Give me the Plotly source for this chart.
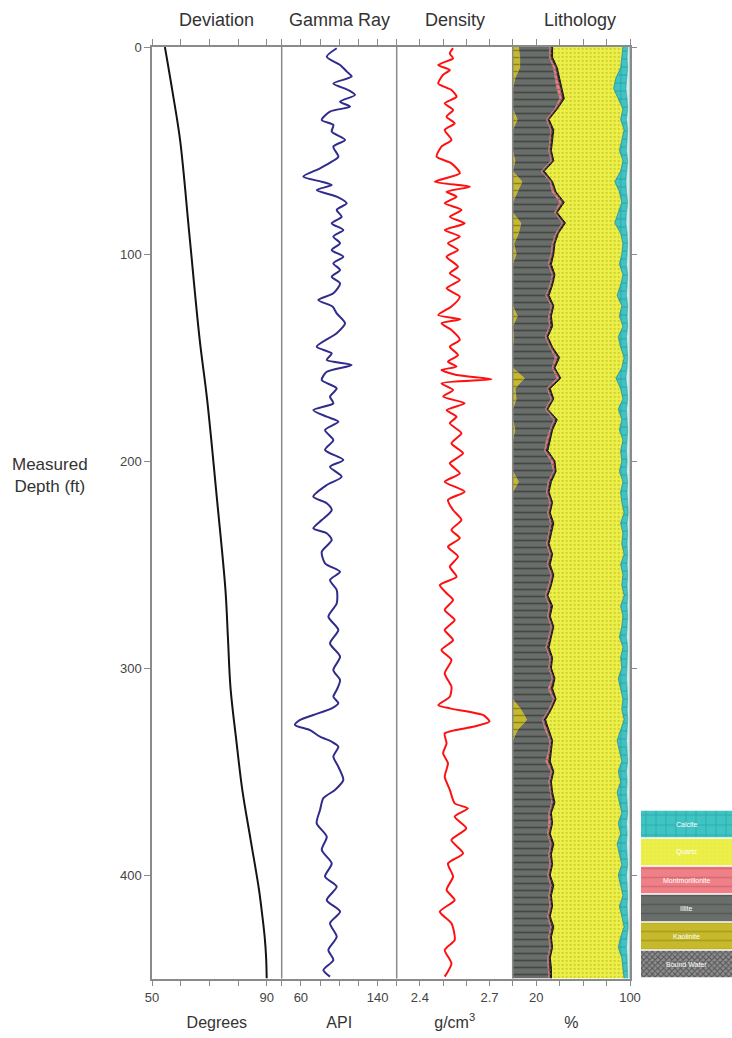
import numpy as np
import plotly.graph_objects as go

W, H = 732, 1038

# ---------------- data ----------------
dev_depth = [0, 22, 45, 90, 141, 170, 219, 262, 286, 310, 335, 359, 383, 407, 420, 430, 440, 450]
dev_deg = [54.5, 57.2, 59.8, 63.0, 66.6, 69.2, 72.7, 75.6, 76.5, 77.4, 79.4, 81.5, 84.4, 87.3, 88.5, 89.3, 89.8, 90.0]

gr_depth = [0.6, 4.7, 8.7, 11.9, 14.3, 17.6, 20.8, 23.2, 26.4, 28.8, 31.2, 35.3, 37.7, 40.9, 44.9,
            48.1, 53.0, 55.4, 58.6, 62.6, 65.1, 66.7, 69.1, 72.3, 75.5, 78.7, 82.0, 85.2, 88.4, 91.6,
            94.8, 98.1, 101.3, 104.5, 107.7, 111.0, 114.2, 119.0, 122.2, 125.4, 128.7, 133.5, 138.3,
            144.8, 148.0, 151.2, 153.6, 156.9, 160.9, 164.9, 168.9, 172.1, 175.4, 178.6, 181.0, 185.0,
            189.9, 194.7, 199.5, 202.8, 207.6, 211.6, 217.2, 220.4, 223.7, 228.5, 232.5, 234.9, 238.2,
            243.8, 249.4, 253.5, 257.5, 262.3, 268.8, 275.2, 281.6, 288.1, 294.5, 301.0, 305.8, 310.6,
            313.9, 317.0, 319.5, 322.7, 325.1, 327.5, 330.0, 333.2, 335.6, 338.0, 342.8, 347.7, 354.1,
            358.9, 362.9, 368.6, 375.0, 381.5, 387.9, 394.4, 400.8, 405.6, 412.1, 417.7, 423.3, 429.8,
            436.2, 441.1, 445.9, 449.1]
gr_api = [97.4, 87.0, 100.9, 108.0, 113.0, 93.9, 109.5, 116.5, 100.9, 111.3, 90.4, 81.8, 93.9, 92.2, 106.1,
          93.9, 99.1, 92.2, 80.0, 62.6, 81.8, 92.2, 76.5, 97.4, 107.8, 97.4, 102.6, 92.2, 104.3, 93.9,
          100.9, 92.2, 104.3, 93.9, 100.9, 92.2, 100.9, 93.9, 78.2, 93.0, 97.4, 106.1, 97.4,
          76.5, 92.2, 87.0, 113.0, 87.0, 81.8, 97.4, 90.4, 93.9, 73.0, 87.0, 99.1, 85.2,
          93.9, 85.2, 104.3, 90.4, 102.6, 87.0, 73.0, 87.0, 92.2, 81.8, 73.0, 87.0, 92.2,
          81.8, 85.2, 100.9, 90.4, 97.4, 97.4, 88.7, 99.1, 90.4, 100.9, 93.9, 100.9, 97.4,
          93.9, 99.1, 92.2, 73.0, 59.2, 53.9, 69.6, 80.0, 92.2, 99.1, 93.9, 99.1, 104.3,
          95.6, 83.5, 80.0, 76.5, 87.0, 81.8, 92.2, 85.2, 97.4, 87.0, 100.9, 90.4, 97.4,
          88.7, 93.9, 83.5, 90.4]

den_depth = [0.6, 3.1, 5.5, 8.7, 11.1, 13.5, 17.6, 20.8, 24.0, 27.2, 30.4, 33.7, 36.9, 40.1, 44.9,
             48.1, 53.0, 56.2, 61.0, 65.1, 67.5, 69.9, 72.3, 75.5, 78.7, 82.0, 85.2, 88.4, 91.6, 94.8,
             98.1, 101.3, 106.1, 109.3, 112.6, 116.6, 120.6, 125.4, 129.5, 131.5, 133.5, 136.7, 141.5,
             144.8, 148.8, 152.0, 154.4, 156.0, 158.5, 160.5, 162.5, 165.7, 168.9, 172.1, 175.4, 178.6,
             181.8, 186.6, 191.5, 196.3, 201.1, 206.0, 210.0, 214.8, 218.8, 223.7, 228.5, 233.3, 237.3,
             241.4, 246.2, 251.1, 255.9, 259.9, 263.9, 267.1, 272.0, 276.8, 281.6, 286.5, 291.3, 296.1,
             302.6, 309.0, 313.9, 317.9, 319.5, 322.7, 325.9, 328.4, 331.6, 336.4, 341.2, 346.0, 352.5,
             358.9, 365.4, 367.8, 371.8, 377.5, 383.1, 389.5, 394.4, 400.8, 407.2, 412.1, 417.7, 423.3,
             431.4, 436.2, 442.7, 449.1]
den_rho = [2.543, 2.529, 2.543, 2.479, 2.529, 2.500, 2.479, 2.536, 2.558, 2.507, 2.543, 2.515, 2.550, 2.507, 2.536,
           2.493, 2.472, 2.536, 2.572, 2.464, 2.615, 2.515, 2.558, 2.507, 2.579, 2.529, 2.593, 2.507, 2.572, 2.521,
           2.564, 2.515, 2.564, 2.529, 2.572, 2.515, 2.572, 2.536, 2.479, 2.575, 2.493, 2.536, 2.572,
           2.529, 2.564, 2.521, 2.558, 2.493, 2.558, 2.708, 2.493, 2.543, 2.500, 2.593, 2.515, 2.558,
           2.529, 2.579, 2.536, 2.586, 2.529, 2.572, 2.507, 2.593, 2.521, 2.543, 2.579, 2.536, 2.572,
           2.521, 2.564, 2.529, 2.558, 2.486, 2.515, 2.543, 2.507, 2.550, 2.507, 2.543, 2.493, 2.536,
           2.507, 2.536, 2.529, 2.479, 2.529, 2.672, 2.700, 2.629, 2.507, 2.515, 2.500, 2.521, 2.507,
           2.529, 2.550, 2.607, 2.550, 2.600, 2.536, 2.586, 2.521, 2.543, 2.515, 2.550, 2.486, 2.536,
           2.550, 2.507, 2.536, 2.507]

litho_depth = [0, 5, 10, 15, 20, 25, 30, 35, 40, 45,
               50, 55, 60, 65, 70, 75, 80, 85, 90, 95,
               100, 105, 110, 115, 120, 125, 130, 135, 140, 145,
               150, 155, 160, 165, 170, 175, 180, 185, 190, 195,
               200, 205, 210, 215, 220, 225, 230, 235, 240, 245,
               250, 255, 260, 265, 270, 275, 280, 285, 290, 295,
               300, 305, 310, 315, 320, 325, 330, 335, 340, 345,
               350, 355, 360, 365, 370, 375, 380, 385, 390, 395,
               400, 405, 410, 415, 420, 425, 430, 435, 440, 445,
               450]
kaolinite_pct = [5, 6, 6, 2, 0, 0, 0, 4, 0, 0,
                 0, 2, 0, 8, 4, 0, 0, 7, 5, 1,
                 3, 0, 0, 0, 0, 0, 4, 0, 1, 0,
                 0, 0, 10, 2, 3, 0, 0, 2, 0, 0,
                 0, 0, 5, 0, 0, 0, 0, 0, 0, 0,
                 0, 0, 0, 0, 0, 0, 0, 0, 0, 0,
                 0, 0, 0, 0, 7, 12, 4, 0, 0, 0,
                 0, 0, 0, 0, 0, 0, 0, 0, 0, 0,
                 0, 0, 0, 0, 0, 0, 0, 0, 0, 0,
                 0]
clay_edge_pct = [34, 34, 38, 40, 42, 44, 38, 31, 35, 34,
                 33, 35, 27, 34, 37, 44, 38, 45, 39, 36,
                 35, 33, 36, 34, 31, 35, 33, 34, 30, 34,
                 40, 36, 41, 32, 35, 30, 38, 34, 32, 30,
                 36, 37, 33, 31, 34, 32, 35, 33, 31, 34,
                 32, 35, 33, 30, 34, 32, 35, 33, 31, 34,
                 33, 36, 34, 37, 33, 28, 31, 34, 33, 32,
                 35, 33, 34, 36, 33, 34, 32, 35, 33, 34,
                 32, 35, 33, 34, 32, 35, 33, 34, 32, 33,
                 33]
montmorillonite_pct = [1, 1, 2, 2, 3, 2, 1, 1, 1, 1,
                       1, 1, 1, 1, 2, 2, 1, 1, 1, 1,
                       1, 1, 1, 1, 1, 1, 1, 1, 1, 1,
                       2, 1, 2, 1, 1, 1, 1, 1, 2, 1,
                       2, 1, 1, 1, 1, 1, 1, 1, 1, 1,
                       1, 1, 1, 1, 1, 1, 1, 1, 1, 1,
                       1, 1, 2, 1, 1, 1, 2, 1, 1, 2,
                       1, 1, 1, 1, 1, 2, 1, 1, 1, 1,
                       1, 1, 1, 1, 1, 1, 1, 1, 1, 1,
                       1]
bound_water_pct = [1.5, 2, 1.5, 2, 1.5, 2, 1.5, 1.5, 2, 1.5,
                   1.5, 1.5, 2, 1.5, 1.5, 2, 1.5, 2, 1.5, 1.5,
                   1.5, 2, 1.5, 1.5, 2, 1.5, 1.5, 2, 1.5, 1.5,
                   2, 1.5, 1.5, 2, 1.5, 1.5, 2, 1.5, 1.5, 2,
                   1.5, 1.5, 2, 1.5, 1.5, 1.5, 2, 1.5, 1.5, 1.5,
                   2, 1.5, 1.5, 1.5, 2, 1.5, 1.5, 1.5, 2, 1.5,
                   1.5, 1.5, 2, 1.5, 1.5, 2, 1.5, 1.5, 1.5, 2,
                   1.5, 1.5, 1.5, 2, 1.5, 1.5, 1.5, 2, 1.5, 1.5,
                   1.5, 2, 1.5, 1.5, 1.5, 2, 1.5, 1.5, 1.5, 2,
                   1.5]
quartz_edge_pct = [94, 93, 92, 88, 86, 90, 94, 92, 95, 93,
                   91, 94, 92, 87, 91, 93, 90, 87, 92, 94,
                   93, 91, 94, 92, 89, 93, 91, 94, 90, 92,
                   95, 93, 88, 92, 94, 90, 93, 91, 94, 92,
                   93, 91, 94, 92, 93, 95, 92, 94, 93, 95,
                   92, 94, 93, 95, 92, 94, 93, 91, 94, 92,
                   93, 90, 92, 94, 93, 95, 92, 89, 91, 93,
                   90, 92, 89, 91, 93, 90, 92, 89, 91, 93,
                   90, 92, 94, 91, 93, 95, 92, 90, 93, 94,
                   95]
calcite_edge_pct = [98, 97.5, 98, 97, 96.5, 97.5, 98, 97, 98, 97.5,
                    97, 98, 97.5, 96.5, 97, 98, 97, 96.5, 97.5, 98,
                    97.5, 97, 98, 97.5, 97, 98, 97.5, 98, 97, 97.5,
                    98, 97.5, 96.5, 97.5, 98, 97, 97.5, 98, 97.5, 97,
                    97.5, 97, 98, 97.5, 98, 98.5, 97.5, 98, 97.5, 98,
                    97.5, 98, 97.5, 98, 97.5, 98, 97.5, 97, 98, 97.5,
                    97.5, 97, 97.5, 98, 97.5, 98, 97.5, 97, 97.5, 98,
                    97, 97.5, 97, 97.5, 98, 97, 97.5, 97, 97.5, 98,
                    97, 97.5, 98, 97.5, 98, 98.5, 97.5, 97, 97.5, 98,
                    98]

legend_labels = ["Calcite", "Quartz", "Montmorillonite", "Illite", "Kaolinite", "Bound Water"]

track_titles = ["Deviation", "Gamma Ray", "Density", "Lithology"]
unit_titles = ["Degrees", "API", "g/cm<sup>3</sup>", "%"]
depth_ticks = [0, 100, 200, 300, 400]

# ---------------- styling ----------------
FONT = "Liberation Sans Narrow, Arial Narrow, Liberation Sans, Arial, sans-serif"
AX = "#8a8a8a"
TXT = "#444444"

C_CAL, F_CAL = "#3fc4c4", "#1f8585"
C_QTZ, F_QTZ = "#eef04a", "#cfd12e"
C_MON, F_MON = "#ef8088", "#c0555d"
C_ILL, F_ILL = "#6a6e6a", "#444744"
C_KAO, F_KAO = "#c6b92b", "#8c8418"
C_BW, F_BW = "#8e8e8e", "#1a1a1a"
C_PORE = "#cdeff0"

legend_colors = [C_CAL, C_QTZ, C_MON, C_ILL, C_KAO, C_BW]
legend_fg = [F_CAL, F_QTZ, F_MON, F_ILL, F_KAO, F_BW]
legend_shapes = ["+", "+", "-", "-", "-", "x"]
legend_psize = [10, 4, 9, 9, 9, 4]
legend_solid = [0.15, 0.15, 0.18, 0.18, 0.18, 0.45]


def px(v):
    return v / W


def py(v):
    return 1 - v / H


fig = go.Figure()

fig.add_trace(go.Scatter(x=dev_deg, y=dev_depth, xaxis="x", yaxis="y", mode="lines",
                         line=dict(color="#141414", width=2, shape="spline"), hoverinfo="skip"))
fig.add_trace(go.Scatter(x=gr_api, y=gr_depth, xaxis="x2", yaxis="y", mode="lines",
                         line=dict(color="#2f2c8c", width=2, shape="spline", smoothing=0.7),
                         hoverinfo="skip"))
fig.add_trace(go.Scatter(x=den_rho, y=den_depth, xaxis="x3", yaxis="y", mode="lines",
                         line=dict(color="#ff1010", width=2, shape="spline", smoothing=0.6),
                         hoverinfo="skip"))

# lithology stacked fills
kao = np.array(kaolinite_pct, dtype=float)
clay = np.array(clay_edge_pct, dtype=float)
mon = np.array(montmorillonite_pct, dtype=float)
bw = np.array(bound_water_pct, dtype=float)
c_kao = kao
c_bw = clay
c_mon = clay - bw
c_ill = c_mon - mon
c_qtz = np.array(quartz_edge_pct, dtype=float)
c_cal = np.array(calcite_edge_pct, dtype=float)
c_all = np.full_like(c_cal, 100.0)

layers = [
    (c_kao, "tozerox", C_KAO, dict(shape="-", bgcolor=C_KAO, fgcolor=F_KAO, size=7, solidity=0.2), C_KAO, 0.5),
    (c_ill, "tonextx", C_ILL, dict(shape="-", bgcolor=C_ILL, fgcolor=F_ILL, size=7, solidity=0.25), C_ILL, 0.5),
    (c_mon, "tonextx", C_MON, dict(shape="-", bgcolor=C_MON, fgcolor=F_MON, size=5, solidity=0.3), "#b05058", 0.6),
    (c_bw, "tonextx", "#2a2a2a", dict(shape="x", bgcolor="#555555", fgcolor="#111111", size=3, solidity=0.5), "#111111", 1.0),
    (c_qtz, "tonextx", C_QTZ, dict(shape=".", bgcolor=C_QTZ, fgcolor=F_QTZ, size=4, solidity=0.25), "#2c8c8c", 0.8),
    (c_cal, "tonextx", C_CAL, dict(shape="+", bgcolor=C_CAL, fgcolor=F_CAL, size=8, solidity=0.12), "#2a8a8a", 0.6),
    (c_all, "tonextx", C_PORE, None, "#9aa8a8", 1.0),
]
for xs, fillmode, col, patt, lcol, lw in layers:
    kw = dict(x=xs, y=litho_depth, xaxis="x4", yaxis="y2", mode="lines", fill=fillmode,
              fillcolor=col, line=dict(color=lcol, width=lw), hoverinfo="skip")
    if patt is not None:
        kw["fillpattern"] = patt
    fig.add_trace(go.Scatter(**kw))

# legend swatches (one bar per lithology)
for i, name in enumerate(legend_labels):
    fig.add_trace(go.Bar(
        x=[1], y=[i], orientation="h", width=0.95, xaxis="x5", yaxis="y3",
        marker=dict(color=legend_colors[i], line=dict(width=0),
                    pattern=dict(shape=legend_shapes[i], fgcolor=legend_fg[i], fillmode="overlay",
                                 size=legend_psize[i], solidity=legend_solid[i])),
        hoverinfo="skip"))
    fig.add_annotation(text=name, xref="x5", yref="y3", x=0.5, y=i, showarrow=False,
                       font=dict(size=7, color="white", family="Liberation Sans, Arial, sans-serif"),
                       xanchor="center", yanchor="middle")

xcommon = dict(showline=True, linecolor=AX, linewidth=1.5, mirror="ticks", ticks="outside",
               ticklen=6, tickcolor=AX, tickwidth=1.2, showgrid=False, zeroline=False,
               tickfont=dict(size=13, color=TXT, family=FONT), automargin=False,
               title=dict(font=dict(size=16, color="#333", family=FONT), standoff=13))

layout = dict(
    width=W, height=H, margin=dict(l=0, r=0, t=0, b=0), template="none",
    paper_bgcolor="white", plot_bgcolor="white", showlegend=False,
    font=dict(family=FONT, color=TXT),
    xaxis=dict(xcommon, domain=[px(152), px(281.7)], range=[50, 95.23], anchor="y",
               tickvals=[50, 60, 70, 80, 90], ticktext=["50", "", "", "", "90"],
               title=dict(xcommon["title"], text=unit_titles[0])),
    xaxis2=dict(xcommon, domain=[px(281.7), px(396.7)], range=[40, 160], anchor="y",
                tickvals=[40, 60, 80, 100, 120, 140, 160], ticktext=["", "60", "", "", "", "140", ""],
                title=dict(xcommon["title"], text=unit_titles[1])),
    xaxis3=dict(xcommon, domain=[px(396.7), px(512.7)], range=[2.3, 2.8], anchor="y",
                tickvals=[2.3, 2.4, 2.5, 2.6, 2.7, 2.8], ticktext=["", "2.4", "", "", "2.7", ""],
                title=dict(xcommon["title"], text=unit_titles[2])),
    xaxis4=dict(xcommon, domain=[px(512.7), px(630)], range=[0, 100], anchor="y2",
                tickvals=[0, 20, 40, 60, 80, 100], ticktext=["", "20", "", "", "", "100"],
                title=dict(xcommon["title"], text=unit_titles[3])),
    yaxis=dict(domain=[py(978.5), py(47)], range=[450, 0], anchor="x", showline=True,
               linecolor=AX, linewidth=1.5, ticks="outside", ticklen=6, tickcolor=AX,
               tickvals=depth_ticks, showgrid=False, zeroline=False, automargin=False,
               tickfont=dict(size=13, color=TXT, family=FONT)),
    yaxis2=dict(domain=[py(978.5), py(47)], range=[450, 0], anchor="x4", side="right",
                showline=True, linecolor=AX, linewidth=1.5, ticks="outside", ticklen=5,
                tickcolor=AX, tickvals=depth_ticks, showticklabels=False, showgrid=False,
                zeroline=False, automargin=False),
    xaxis5=dict(domain=[px(641), 1.0], range=[0, 1], anchor="y3", visible=False),
    yaxis3=dict(domain=[py(978), py(810)], range=[5.5, -0.5], anchor="x5", visible=False),
)
fig.update_layout(**layout)

# track separators
for ax in ["x2", "x3", "x4"]:
    fig.add_shape(type="line", xref=f"{ax} domain", yref="y domain", x0=0, x1=0, y0=0, y1=1,
                  line=dict(color=AX, width=1.5))

# track titles
title_x = [0.5, 0.5, 0.5, 0.57]
for i, (ax, t) in enumerate(zip(["x", "x2", "x3", "x4"], track_titles)):
    fig.add_annotation(text=t, xref=f"{ax} domain", x=title_x[i], yref="paper", y=py(20),
                       showarrow=False, font=dict(size=18, color="#333", family=FONT),
                       xanchor="center", yanchor="middle")

fig.add_annotation(text="Measured<br>Depth (ft)", xref="paper", x=px(50), yref="paper", y=py(475),
                   showarrow=False, font=dict(size=17, color="#333", family=FONT),
                   xanchor="center", yanchor="middle")

fig.write_html("out.html", config={"displayModeBar": False},
               post_script="document.body.style.margin='0';")
